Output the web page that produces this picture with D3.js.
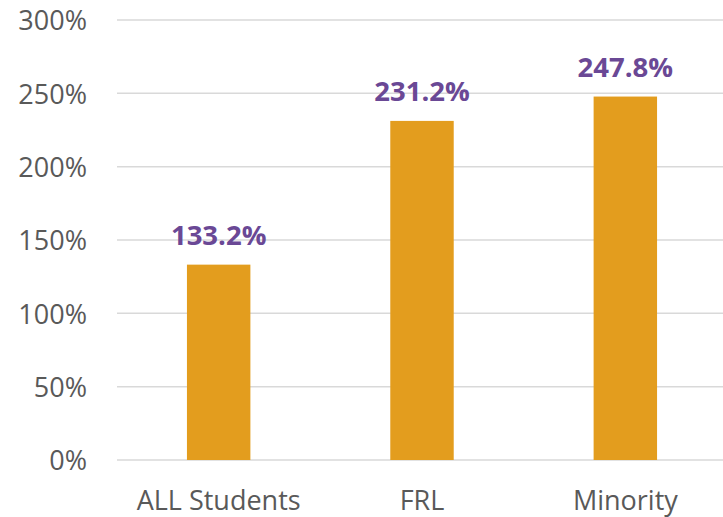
<!DOCTYPE html>
<html>
<head>
<meta charset="utf-8">
<script src="https://cdn.jsdelivr.net/npm/d3@7"></script>
<style>
  body { margin: 0; background: #fff; }
  svg { display: block; }
</style>
</head>
<body>
<svg id="chart"></svg>
<script>
// data
const categories = ["ALL Students", "FRL", "Minority"];
const values = [133.2, 231.2, 247.8];
const yTicks = [0, 50, 100, 150, 200, 250, 300];

const WIDTH = 723;
const HEIGHT = 517;

const svg = d3.select("#chart")
    .attr("width", WIDTH)
    .attr("height", HEIGHT);

const x = d3.scaleBand()
    .domain(categories)
    .range([117, 727])
    .paddingInner(0.688)
    .paddingOuter(0.344);

const y = d3.scaleLinear()
    .domain([0, 300])
    .range([460, 20]);

// gridlines
svg.append("g")
    .selectAll("line")
    .data(yTicks)
    .enter()
    .append("line")
    .attr("x1", 117)
    .attr("x2", WIDTH)
    .attr("y1", d => y(d))
    .attr("y2", d => y(d))
    .attr("stroke", "#d9d9d9")
    .attr("stroke-width", 1.5);

// y axis labels
const yAxis = d3.axisLeft(y)
    .tickValues(yTicks)
    .tickFormat(d => d + "%")
    .tickSize(0)
    .tickPadding(0);

svg.append("g")
    .attr("transform", "translate(87,0)")
    .call(yAxis)
    .call(g => g.select(".domain").remove())
    .selectAll("text")
    .attr("font-family", "Open Sans")
    .attr("font-size", 27)
    .attr("fill", "#595959")
    .attr("dy", "0.36em");

// bars
svg.append("g")
    .selectAll("rect")
    .data(values)
    .enter()
    .append("rect")
    .attr("x", (d, i) => x(categories[i]))
    .attr("y", d => y(d))
    .attr("width", x.bandwidth())
    .attr("height", d => y(0) - y(d))
    .attr("fill", "#e39d1e");

// value labels
svg.append("g")
    .selectAll("text")
    .data(values)
    .enter()
    .append("text")
    .attr("x", (d, i) => x(categories[i]) + x.bandwidth() / 2)
    .attr("y", d => y(d) - 20)
    .attr("text-anchor", "middle")
    .attr("font-family", "Open Sans")
    .attr("font-weight", "bold")
    .attr("font-size", 27.5)
    .attr("fill", "#6a4895")
    .text(d => d.toFixed(1) + "%");

// x axis labels
const xAxis = d3.axisBottom(x).tickSize(0).tickPadding(0);
svg.append("g")
    .attr("transform", "translate(0,510)")
    .call(xAxis)
    .call(g => g.select(".domain").remove())
    .selectAll("text")
    .attr("font-family", "Open Sans")
    .attr("font-size", 27)
    .attr("fill", "#595959")
    .attr("dy", 0);
</script>
</body>
</html>
